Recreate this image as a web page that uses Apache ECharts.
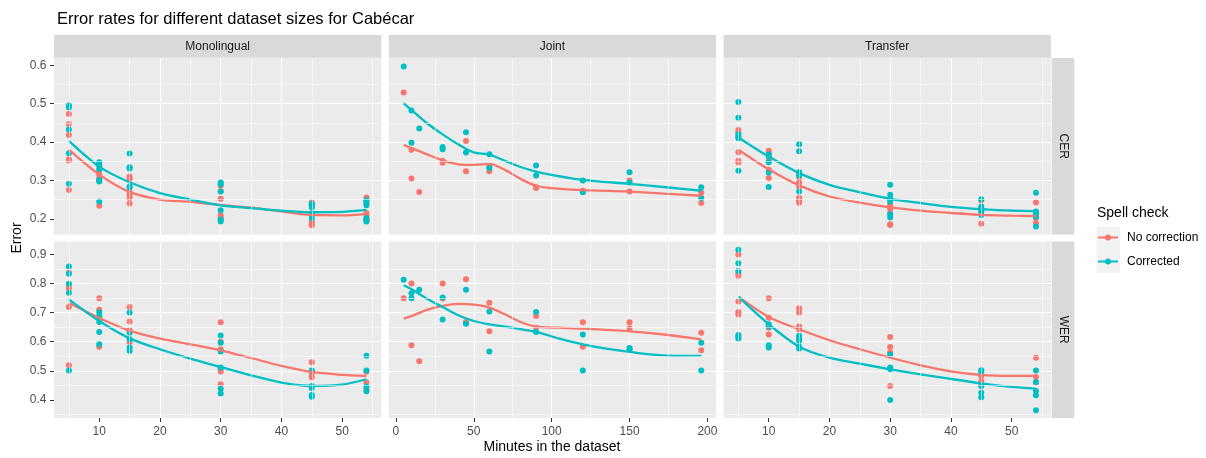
<!DOCTYPE html>
<html>
<head>
<meta charset="utf-8">
<script src="https://cdn.jsdelivr.net/npm/echarts@6/dist/echarts.min.js"></script>
<style>
html,body{margin:0;padding:0;background:#fff;}
#chart{width:1206px;height:458px;}
</style>
</head>
<body>
<div id="chart"></div>
<script>
// ---------------- DATA ----------------
const facetsCol = ['Monolingual', 'Joint', 'Transfer'];
const facetsRow = ['CER', 'WER'];
const seriesNames = ['No correction', 'Corrected'];

const monoTicks = [10, 20, 30, 40, 50];
const jointTicks = [0, 50, 100, 150, 200];
const cerTicks = [0.2, 0.3, 0.4, 0.5, 0.6];
const werTicks = [0.4, 0.5, 0.6, 0.7, 0.8, 0.9];

// Monolingual CER
const monoCER_none = [[5,0.473],[5,0.447],[5,0.418],[5,0.355],[5,0.352],[5,0.275],
  [10,0.34],[10,0.325],[10,0.315],[10,0.305],[10,0.30],[10,0.234],
  [15,0.31],[15,0.304],[15,0.27],[15,0.262],[15,0.254],[15,0.24],
  [30,0.287],[30,0.272],[30,0.252],[30,0.21],[30,0.203],[30,0.197],
  [45,0.2425],[45,0.235],[45,0.21],[45,0.193],[45,0.186],[45,0.183],
  [54,0.2555],[54,0.245],[54,0.215],[54,0.209],[54,0.2],[54,0.196]];
const monoCER_corr = [[5,0.495],[5,0.49],[5,0.4325],[5,0.371],[5,0.291],
  [10,0.3475],[10,0.339],[10,0.33],[10,0.301],[10,0.297],[10,0.245],
  [15,0.37],[15,0.3345],[15,0.331],[15,0.284],[15,0.2815],
  [30,0.2945],[30,0.29],[30,0.271],[30,0.2225],[30,0.198],[30,0.193],
  [45,0.239],[45,0.235],[45,0.2295],[45,0.214],[45,0.202],
  [54,0.248],[54,0.2415],[54,0.235],[54,0.202],[54,0.197],[54,0.193]];
const monoCER_noneFit = [[5,0.38],[10,0.315],[15,0.27],[20,0.25],[25,0.244],[30,0.236],[35,0.229],[40,0.219],[45,0.21],[50,0.209],[54,0.213]];
const monoCER_corrFit = [[5,0.403],[10,0.336],[15,0.295],[20,0.267],[25,0.25],[30,0.235],[35,0.228],[40,0.221],[45,0.217],[50,0.218],[54,0.223]];

// Joint CER
const jointCER_none = [[5,0.529],[10,0.38],[10,0.305],[15,0.27],[30,0.351],[30,0.346],[45,0.403],[45,0.324],
  [60,0.324],[60,0.335],[90,0.28],[90,0.282],[120,0.273],[120,0.27],[150,0.30],[150,0.271],[196,0.2685],[196,0.241]];
const jointCER_corr = [[5,0.597],[10,0.482],[10,0.398],[15,0.435],[30,0.387],[30,0.381],[45,0.4255],[45,0.373],
  [60,0.368],[60,0.332],[90,0.339],[90,0.313],[120,0.30],[120,0.269],[150,0.321],[150,0.2945],[196,0.282],[196,0.254]];
const jointCER_noneFit = [[5,0.393],[10,0.384],[20,0.368],[30,0.352],[40,0.342],[50,0.3405],[60,0.343],[70,0.3275],
  [80,0.304],[90,0.286],[100,0.28],[120,0.2745],[150,0.271],[175,0.265],[196,0.26]];
const jointCER_corrFit = [[5,0.501],[10,0.484],[20,0.449],[30,0.42],[40,0.394],[50,0.373],[60,0.367],[70,0.351],
  [80,0.335],[90,0.323],[100,0.3145],[120,0.3015],[150,0.291],[175,0.2815],[196,0.273]];

// Transfer CER
const transCER_none = [[5,0.4315],[5,0.425],[5,0.3735],[5,0.351],[5,0.3465],
  [10,0.377],[10,0.37],[10,0.351],[10,0.3275],[10,0.306],
  [15,0.3095],[15,0.295],[15,0.284],[15,0.254],[15,0.247],[15,0.2415],
  [30,0.2365],[30,0.226],[30,0.215],[30,0.186],[30,0.184],
  [45,0.2485],[45,0.226],[45,0.22],[45,0.187],
  [54,0.2425],[54,0.215],[54,0.2015],[54,0.1885]];
const transCER_corr = [[5,0.5045],[5,0.4635],[5,0.4205],[5,0.4145],[5,0.41],[5,0.325],
  [10,0.368],[10,0.362],[10,0.3475],[10,0.3205],[10,0.2825],
  [15,0.394],[15,0.376],[15,0.3215],[15,0.313],[15,0.271],
  [30,0.2885],[30,0.2625],[30,0.252],[30,0.245],[30,0.212],[30,0.2035],
  [45,0.251],[45,0.232],[45,0.225],[45,0.219],[45,0.21],
  [54,0.2675],[54,0.219],[54,0.212],[54,0.205],[54,0.18]];
const transCER_noneFit = [[5,0.38],[10,0.329],[15,0.287],[20,0.258],[25,0.242],[30,0.2295],[35,0.221],[40,0.215],[45,0.21],[50,0.208],[54,0.207]];
const transCER_corrFit = [[5,0.412],[10,0.362],[15,0.319],[20,0.2885],[25,0.269],[30,0.252],[35,0.241],[40,0.231],[45,0.225],[50,0.221],[54,0.22]];

// Monolingual WER
const monoWER_none = [[5,0.837],[5,0.795],[5,0.7835],[5,0.719],[5,0.519],
  [10,0.749],[10,0.71],[10,0.685],[10,0.583],
  [15,0.719],[15,0.669],[15,0.639],[15,0.599],
  [30,0.667],[30,0.6],[30,0.574],[30,0.505],[30,0.498],[30,0.454],
  [45,0.529],[45,0.4995],[45,0.4915],[45,0.478],
  [54,0.497],[54,0.4595],[54,0.437]];
const monoWER_corr = [[5,0.858],[5,0.8336],[5,0.799],[5,0.768],[5,0.501],
  [10,0.701],[10,0.688],[10,0.668],[10,0.633],[10,0.591],
  [15,0.70],[15,0.631],[15,0.608],[15,0.58],[15,0.569],
  [30,0.621],[30,0.596],[30,0.566],[30,0.511],[30,0.438],[30,0.422],
  [45,0.501],[45,0.448],[45,0.441],[45,0.417],[45,0.411],
  [54,0.552],[54,0.501],[54,0.446],[54,0.43]];
const monoWER_noneFit = [[5,0.734],[10,0.6815],[15,0.638],[20,0.6105],[25,0.591],[30,0.5705],[35,0.544],[40,0.517],[45,0.496],[50,0.486],[54,0.482]];
const monoWER_corrFit = [[5,0.7455],[10,0.671],[15,0.6115],[20,0.574],[25,0.542],[30,0.513],[35,0.4845],[40,0.4595],[45,0.448],[50,0.4525],[54,0.471]];

// Joint WER
const jointWER_none = [[5,0.749],[10,0.80],[10,0.588],[15,0.533],[30,0.80],[30,0.748],[45,0.814],[45,0.668],
  [60,0.734],[60,0.636],[90,0.688],[90,0.648],[120,0.667],[120,0.583],[150,0.667],[150,0.646],[196,0.631],[196,0.571]];
const jointWER_corr = [[5,0.813],[10,0.766],[10,0.749],[15,0.778],[30,0.752],[30,0.676],[45,0.778],[45,0.662],
  [60,0.704],[60,0.566],[90,0.702],[90,0.633],[120,0.625],[120,0.501],[150,0.578],[150,0.574],[196,0.596],[196,0.501]];
const jointWER_noneFit = [[5,0.679],[10,0.688],[20,0.709],[30,0.7227],[40,0.7295],[50,0.727],[60,0.717],[70,0.694],
  [80,0.6677],[90,0.6517],[105,0.648],[120,0.645],[150,0.6357],[175,0.623],[196,0.608]];
const jointWER_corrFit = [[5,0.7936],[10,0.7799],[20,0.7478],[30,0.719],[40,0.6906],[50,0.671],[60,0.6597],[75,0.648],
  [90,0.6334],[105,0.6105],[120,0.591],[135,0.576],[150,0.5648],[175,0.552],[196,0.551]];

// Transfer WER
const transWER_none = [[5,0.899],[5,0.834],[5,0.826],[5,0.738],[5,0.702],[5,0.693],
  [10,0.749],[10,0.682],[10,0.648],[10,0.625],
  [15,0.715],[15,0.70],[15,0.652],[15,0.643],
  [30,0.616],[30,0.582],[30,0.563],[30,0.448],
  [45,0.482],[45,0.465],[45,0.45],
  [54,0.545],[54,0.479],[54,0.46]];
const transWER_corr = [[5,0.916],[5,0.869],[5,0.843],[5,0.623],[5,0.616],[5,0.611],
  [10,0.66],[10,0.652],[10,0.588],[10,0.58],
  [15,0.62],[15,0.611],[15,0.603],[15,0.583],[15,0.577],
  [30,0.555],[30,0.511],[30,0.505],[30,0.40],
  [45,0.502],[45,0.496],[45,0.448],[45,0.425],[45,0.409],
  [54,0.501],[54,0.462],[54,0.431],[54,0.416],[54,0.365]];
const transWER_noneFit = [[5,0.7547],[10,0.685],[15,0.6426],[20,0.605],[25,0.574],[30,0.5453],[35,0.519],[40,0.4984],[45,0.4858],[50,0.4824],[54,0.4824]];
const transWER_corrFit = [[5,0.7547],[10,0.66],[15,0.583],[20,0.5453],[25,0.5247],[30,0.5053],[35,0.488],[40,0.472],[45,0.457],[50,0.4446],[54,0.439]];

// ---------------- LAYOUT / STYLE ----------------
const FONT = "'Liberation Sans', Arial, sans-serif";
const RED = '#F8766D', TEAL = '#00BFC4';
const colLeft = [54, 388.8, 723.5];
const colW = 327.3;
const rowTop = [58, 241.5];
const rowH = 176.5;
const xRange = [[2.55, 56.45], [-4.55, 205.55], [2.55, 56.45]];
const yRange = [[0.159, 0.619], [0.338, 0.944]];
const xMajor = [monoTicks, jointTicks, monoTicks];
const yMajor = [cerTicks, werTicks];
const xMinor = [[5,15,25,35,45,55],[25,75,125,175],[5,15,25,35,45,55]];
const yMinor = [[0.25,0.35,0.45,0.55],[0.35,0.45,0.55,0.65,0.75,0.85]];

const panels = [
  [monoCER_none, monoCER_corr, monoCER_noneFit, monoCER_corrFit],
  [jointCER_none, jointCER_corr, jointCER_noneFit, jointCER_corrFit],
  [transCER_none, transCER_corr, transCER_noneFit, transCER_corrFit],
  [monoWER_none, monoWER_corr, monoWER_noneFit, monoWER_corrFit],
  [jointWER_none, jointWER_corr, jointWER_noneFit, jointWER_corrFit],
  [transWER_none, transWER_corr, transWER_noneFit, transWER_corrFit]
];

const grids = [], xAxes = [], yAxes = [], series = [];
function near(v, list){ return list.some(t => Math.abs(t - v) < 1e-6); }

for (let r = 0; r < 2; r++) {
  for (let c = 0; c < 3; c++) {
    const i = r * 3 + c;
    grids.push({left: colLeft[c], top: rowTop[r], width: colW, height: rowH,
      show: true, backgroundColor: '#EBEBEB', borderWidth: 0, containLabel: false});
    const xm = xMajor[c], ym = yMajor[r];
    xAxes.push({
      type: 'value', gridIndex: i, min: xRange[c][0], max: xRange[c][1],
      axisLine: {show: false},
      axisTick: {show: r === 1, length: 4, customValues: xm, lineStyle: {color: '#333333', width: 1}},
      axisLabel: {show: r === 1, customValues: xm, margin: 8, color: '#4D4D4D', fontSize: 12, fontFamily: FONT,
        showMinLabel: true, showMaxLabel: true,
        formatter: v => near(v, xm) ? String(Math.round(v)) : ''},
      splitLine: {show: true, showMinLine: false, showMaxLine: false, lineStyle: {color: '#FFFFFF', width: 1.1}}
    });
    yAxes.push({
      type: 'value', gridIndex: i, min: yRange[r][0], max: yRange[r][1],
      axisLine: {show: false},
      axisTick: {show: c === 0, length: 4, customValues: ym, lineStyle: {color: '#333333', width: 1}},
      axisLabel: {show: c === 0, customValues: ym, margin: 7.5, color: '#4D4D4D', fontSize: 12, fontFamily: FONT,
        formatter: v => near(v, ym) ? v.toFixed(1) : ''},
      splitLine: {show: true, showMinLine: false, showMaxLine: false, lineStyle: {color: '#FFFFFF', width: 1.1}}
    });
    // minor grid lines
    series.push({
      type: 'line', xAxisIndex: i, yAxisIndex: i, data: [], silent: true, z: 1,
      markLine: {
        silent: true, symbol: ['none', 'none'], animation: false,
        label: {show: false}, emphasis: {disabled: true},
        lineStyle: {color: '#FFFFFF', width: 0.55, type: 'solid'},
        data: xMinor[c].map(v => ({xAxis: v})).concat(yMinor[r].map(v => ({yAxis: v})))
      }
    });
    const [pn, pc, fn, fc] = panels[i];
    series.push({name: seriesNames[0], type: 'scatter', xAxisIndex: i, yAxisIndex: i, data: pn,
      symbolSize: 6, itemStyle: {color: RED, opacity: 1}, z: 3});
    series.push({name: seriesNames[1], type: 'scatter', xAxisIndex: i, yAxisIndex: i, data: pc,
      symbolSize: 6, itemStyle: {color: TEAL, opacity: 1}, z: 3});
    series.push({name: seriesNames[0], type: 'line', xAxisIndex: i, yAxisIndex: i, data: fn,
      smooth: 0.3, showSymbol: false, symbol: 'none', itemStyle: {color: RED},
      lineStyle: {color: RED, width: 2.3}, z: 4});
    series.push({name: seriesNames[1], type: 'line', xAxisIndex: i, yAxisIndex: i, data: fc,
      smooth: 0.3, showSymbol: false, symbol: 'none', itemStyle: {color: TEAL},
      lineStyle: {color: TEAL, width: 2.3}, z: 4});
  }
}

const graphics = [];
// top strips
for (let c = 0; c < 3; c++) {
  graphics.push({type: 'rect', shape: {x: colLeft[c], y: 35, width: colW, height: 22.7}, style: {fill: '#D9D9D9'}, silent: true});
  graphics.push({type: 'text', x: colLeft[c] + colW / 2, y: 46.5, silent: true,
    style: {text: facetsCol[c], textAlign: 'center', textVerticalAlign: 'middle', fill: '#1A1A1A', fontSize: 12, fontFamily: FONT}});
}
// right strips
for (let r = 0; r < 2; r++) {
  graphics.push({type: 'rect', shape: {x: 1051.7, y: rowTop[r], width: 22.6, height: rowH}, style: {fill: '#D9D9D9'}, silent: true});
  graphics.push({type: 'text', x: 1063, y: rowTop[r] + rowH / 2, rotation: -Math.PI / 2, silent: true,
    style: {text: facetsRow[r], textAlign: 'center', textVerticalAlign: 'middle', fill: '#1A1A1A', fontSize: 12, fontFamily: FONT}});
}
// axis titles
graphics.push({type: 'text', x: 17, y: 238, rotation: Math.PI / 2, silent: true,
  style: {text: 'Error', textAlign: 'center', textVerticalAlign: 'middle', fill: '#000', fontSize: 14, fontFamily: FONT}});
graphics.push({type: 'text', x: 552, y: 447.5, silent: true,
  style: {text: 'Minutes in the dataset', textAlign: 'center', textVerticalAlign: 'middle', fill: '#000', fontSize: 14, fontFamily: FONT}});
// legend title and key backgrounds
graphics.push({type: 'text', x: 1097, y: 213, silent: true,
  style: {text: 'Spell check', textAlign: 'left', textVerticalAlign: 'middle', fill: '#000', fontSize: 14, fontFamily: FONT}});
graphics.push({type: 'rect', shape: {x: 1096.7, y: 226.7, width: 23.3, height: 46}, style: {fill: '#F2F2F2'}, silent: true, z: -1});

const ICON = 'path://M0,2.5L20,2.5L20,4.5L0,4.5Z M10,0.5A3,3 0 1 1 10,6.5A3,3 0 1 1 10,0.5Z';
const legendBase = {orient: 'vertical', left: 1098, itemWidth: 20, itemHeight: 6, icon: ICON,
  textStyle: {fontSize: 12, color: '#000', fontFamily: FONT, padding: [0, 0, 0, 4]}, padding: 0};

const chart = echarts.init(document.getElementById('chart'), null, {renderer: 'canvas'});
chart.setOption({
  animation: false,
  backgroundColor: '#FFFFFF',
  title: {text: 'Error rates for different dataset sizes for Cabécar', left: 52, top: 6,
    textStyle: {fontSize: 16.5, fontWeight: 'normal', color: '#000', fontFamily: FONT}},
  legend: [
    Object.assign({}, legendBase, {data: [seriesNames[0]], top: 231.5}),
    Object.assign({}, legendBase, {data: [seriesNames[1]], top: 255.5})
  ],
  grid: grids,
  xAxis: xAxes,
  yAxis: yAxes,
  series: series,
  graphic: graphics
});
</script>
</body>
</html>
